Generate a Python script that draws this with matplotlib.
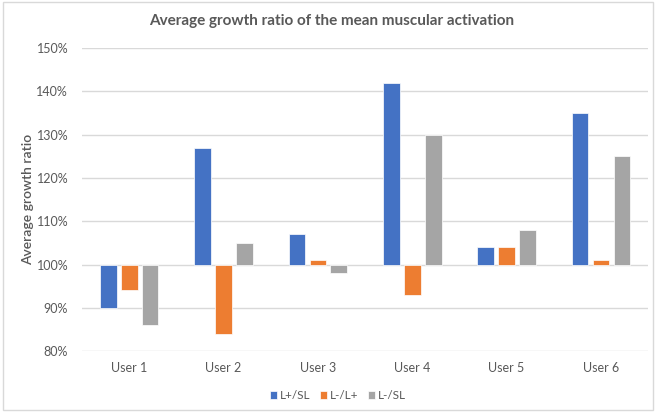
import matplotlib
matplotlib.use("Agg")
import matplotlib.pyplot as plt
import numpy as np
from matplotlib.ticker import FuncFormatter
from matplotlib.patches import Rectangle

users = ["User 1", "User 2", "User 3", "User 4", "User 5", "User 6"]
series_names = ["L+/SL", "L-/L+", "L-/SL"]
lplus_sl = [90, 127, 107, 142, 104, 135]
lminus_lplus = [94, 84, 101, 93, 104, 101]
lminus_sl = [86, 105, 98, 130, 108, 125]
yticks = [80, 90, 100, 110, 120, 130, 140, 150]

colors = ["#4472C4", "#ED7D31", "#A5A5A5"]
text_color = "#595959"
plt.rcParams['font.family'] = ['Lato', 'DejaVu Sans']

fig = plt.figure(figsize=(6.56, 4.12), dpi=100)
ax = fig.add_axes([0.125, 0.148, 0.863, 0.735])

x = np.arange(len(users))
step = 0.222
width = 0.177
base = 100
for i, (name, vals, c) in enumerate(zip(series_names, [lplus_sl, lminus_lplus, lminus_sl], colors)):
    v = np.array(vals, dtype=float)
    ax.bar(x + (i - 1) * step, v - base, bottom=base, width=width, color=c,
           label=name, zorder=3, edgecolor="white", linewidth=0.5)

ax.set_xlim(-0.5, len(users) - 0.5)
ax.set_ylim(80, 150)
ax.set_yticks(yticks)
ax.yaxis.set_major_formatter(FuncFormatter(lambda v, p: f"{v:.0f}%"))
ax.set_xticks(x)
ax.set_xticklabels(users)
ax.grid(axis="y", color="#D9D9D9", linewidth=1, zorder=0)
for s in ax.spines.values():
    s.set_visible(False)
ax.tick_params(axis="both", length=0, colors=text_color, labelsize=9)
ax.tick_params(axis="x", pad=8)
ax.tick_params(axis="y", pad=10)
ax.set_ylabel("Average growth ratio", color=text_color, fontsize=10, labelpad=2,
              fontweight="semibold")

fig.suptitle("Average growth ratio of the mean muscular activation", y=0.965,
             fontsize=11, fontweight="bold", color=text_color, x=0.505)

leg = fig.legend(loc="lower center", bbox_to_anchor=(0.515, 0.0), ncol=3, frameon=False,
                 fontsize=8.5, handlelength=0.6, handleheight=0.6, handletextpad=0.25,
                 columnspacing=0.8, labelcolor=text_color)

fig.patches.append(Rectangle((0.004, 0.004), 0.992, 0.99, transform=fig.transFigure,
                             fill=False, edgecolor="#D9D9D9", linewidth=1))

fig.savefig("out.png", dpi=100)
